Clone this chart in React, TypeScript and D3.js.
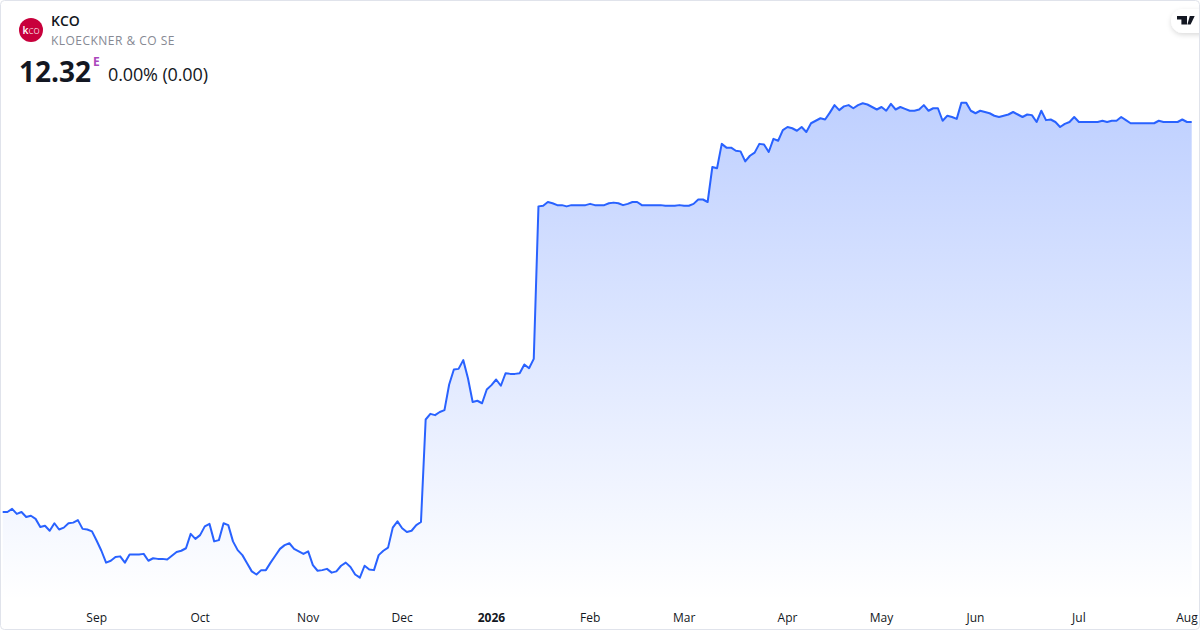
import * as d3 from 'd3'

const W = 1200
const H = 630

const prices = [
  6.08, 6.08, 6.13, 6.05, 6.08, 6.0, 6.02, 5.97, 5.84, 5.86, 5.78, 5.9, 5.8, 5.83, 5.9, 5.91, 5.95, 5.81, 5.8, 5.77,
  5.62, 5.46, 5.27, 5.3, 5.36, 5.37, 5.27, 5.4, 5.4, 5.4, 5.41, 5.3, 5.34, 5.33, 5.33, 5.32, 5.38, 5.44, 5.46, 5.5,
  5.73, 5.65, 5.71, 5.85, 5.89, 5.61, 5.63, 5.9, 5.87, 5.61, 5.47, 5.39, 5.26, 5.13, 5.08, 5.15, 5.15, 5.27, 5.38, 5.49,
  5.55, 5.58, 5.49, 5.45, 5.41, 5.45, 5.23, 5.14, 5.15, 5.17, 5.11, 5.13, 5.22, 5.27, 5.2, 5.08, 5.03, 5.22, 5.16, 5.15,
  5.39, 5.46, 5.51, 5.83, 5.93, 5.82, 5.76, 5.78, 5.87, 5.92, 7.56, 7.65, 7.63, 7.68, 7.71, 8.12, 8.36, 8.37, 8.51, 8.22,
  7.84, 7.86, 7.82, 8.04, 8.11, 8.2, 8.1, 8.3, 8.29, 8.29, 8.3, 8.44, 8.38, 8.53, 10.97, 10.98, 11.04, 11.02, 10.99, 10.99,
  10.97, 10.99, 10.99, 10.99, 10.99, 11.01, 10.99, 10.99, 10.99, 11.02, 11.03, 11.02, 10.99, 11.01, 11.04, 11.04, 10.99, 10.99, 10.99, 10.99,
  10.99, 10.98, 10.98, 10.98, 10.99, 10.98, 10.98, 11.01, 11.08, 11.08, 11.04, 11.6, 11.58, 11.97, 11.91, 11.91, 11.86, 11.85, 11.69, 11.78,
  11.83, 11.97, 11.96, 11.84, 12.05, 12.02, 12.19, 12.24, 12.22, 12.18, 12.24, 12.16, 12.3, 12.34, 12.38, 12.36, 12.47, 12.59, 12.51, 12.57,
  12.59, 12.54, 12.59, 12.62, 12.6, 12.56, 12.52, 12.56, 12.5, 12.61, 12.52, 12.56, 12.53, 12.5, 12.5, 12.52, 12.59, 12.5, 12.54, 12.54,
  12.34, 12.42, 12.4, 12.37, 12.63, 12.63, 12.5, 12.46, 12.5, 12.48, 12.46, 12.42, 12.4, 12.42, 12.44, 12.48, 12.44, 12.4, 12.44, 12.43,
  12.32, 12.5, 12.35, 12.36, 12.32, 12.24, 12.29, 12.32, 12.4, 12.32, 12.32, 12.32, 12.32, 12.32, 12.34, 12.32, 12.34, 12.34, 12.4, 12.35,
  12.3, 12.3, 12.3, 12.3, 12.3, 12.3, 12.34, 12.32, 12.32, 12.32, 12.32, 12.36, 12.32, 12.32,
]

const tickLabels = ['Sep', 'Oct', 'Nov', 'Dec', '2026', 'Feb', 'Mar', 'Apr', 'May', 'Jun', 'Jul', 'Aug']
const tickBars = [20, 42, 65, 85, 104, 125, 145, 167, 187, 207, 229, 252]

const font = '"Open Sans", sans-serif'
const lineColor = '#2962ff'

export default function App() {
  const x = d3.scaleLinear().domain([0, prices.length - 1]).range([2.7, 1191.7])
  const y = d3.scaleLinear().domain([4.192, 14.272]).range([H, 0])

  const line = d3.line<number>()
    .x((_, i) => x(i))
    .y(d => y(d))

  const area = d3.area<number>()
    .x((_, i) => x(i))
    .y0(H - 1)
    .y1(d => y(d))

  return (
    <>
      <style>{'html,body{margin:0;background:#fff}'}</style>
      <svg width={W} height={H} viewBox={`0 0 ${W} ${H}`} style={{ display: 'block', fontFamily: font }}>
        <defs>
          <linearGradient id="fill" gradientUnits="userSpaceOnUse" x1="0" x2="0" y1={y(d3.max(prices)!)} y2={H - 30}>
            <stop offset="0" stopColor={lineColor} stopOpacity={0.3} />
            <stop offset="1" stopColor={lineColor} stopOpacity={0} />
          </linearGradient>
          <filter id="pill" x="-40%" y="-40%" width="180%" height="180%">
            <feDropShadow dx="0" dy="2" stdDeviation="2.5" floodColor="#000" floodOpacity="0.14" />
          </filter>
        </defs>

        <path d={area(prices)!} fill="url(#fill)" />
        <path d={line(prices)!} fill="none" stroke={lineColor} strokeWidth={2} strokeLinejoin="round" />

        {tickLabels.map((t, i) => (
          <text
            key={t}
            x={x(tickBars[i])}
            y={622}
            textAnchor="middle"
            fontSize={12}
            fontWeight={t === '2026' ? 700 : 400}
            fill="#131722"
          >
            {t}
          </text>
        ))}

        <circle cx={31} cy={30} r={12} fill="#c8003c" />
        <text x={31} y={33.5} textAnchor="middle" fontSize={10.5} fill="#fff" fontWeight={300}>
          <tspan fontWeight={600}>k</tspan>co
        </text>
        <text x={51} y={26} fontSize={14} fontWeight={600} fill="#131722">KCO</text>
        <text x={51} y={45} fontSize={12} letterSpacing={0.47} fill="#868993">KLOECKNER &amp; CO SE</text>
        <text x={19} y={82} fontSize={28} fontWeight={700} fill="#131722">12.32</text>
        <text x={93} y={65.5} fontSize={12} fontWeight={700} fill="#ab47bc">E</text>
        <text x={108} y={81} fontSize={18} letterSpacing={-0.13} fill="#131722">0.00% (0.00)</text>

        <rect x={1171} y={9} width={44} height={24} rx={12} fill="#fff" filter="url(#pill)" />
        <rect x={1199} y={0} width={1} height={H} fill="#fff" />
        <g fill="#131722">
          <path d="M1177 16h10v8.6h-5.6v-5h-4.4z" />
          <path d="M1190.6 24.6h-3.2l2.4-8.6h4.9z" />
        </g>

        <rect x={0.5} y={0.5} width={W - 1} height={H - 1} rx={4} fill="none" stroke="#e0e3eb" />
      </svg>
    </>
  )
}
